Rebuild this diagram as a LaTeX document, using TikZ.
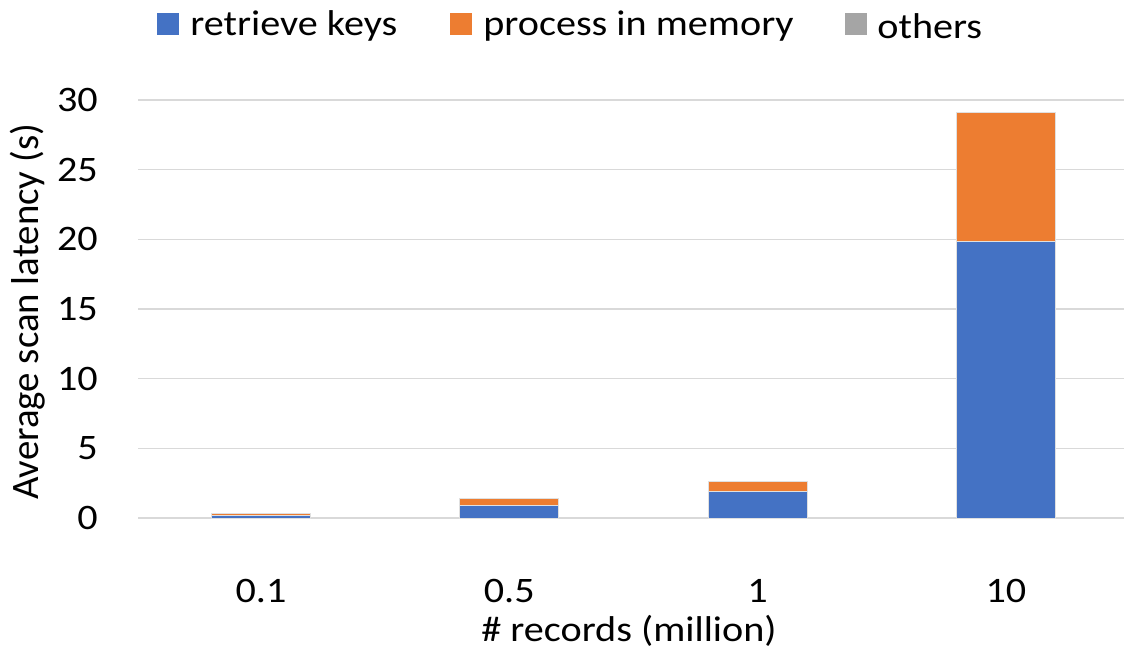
\documentclass[tikz,border=0pt]{standalone}
\usepackage{fontspec}
\setmainfont{Carlito}[FakeStretch=1.12]
\newfontfamily\ytitlefont{Carlito}
\usetikzlibrary{positioning}
\definecolor{keyblue}{HTML}{4472C4}
\definecolor{memorange}{HTML}{ED7D31}
\definecolor{othgray}{HTML}{A5A5A5}
\definecolor{gridgray}{HTML}{D9D9D9}
\newcommand{\unitH}{13.93}
\newcommand{\barW}{99}
\newcommand{\baseY}{131}

\begin{document}
\begin{tikzpicture}[x=1bp, y=1bp, every node/.style={font=\fontsize{36}{42}\selectfont, inner sep=0pt},
  grid/.style={gridgray, line width=1.5bp},
  seg/.style={draw=black!12, line width=0.7bp},
  swatch/.style={minimum size=22bp, inner sep=0pt}]
\useasboundingbox (0,0) rectangle (1124,649);
% grid and y ticks
\foreach \v in {0,5,...,30} {
  \coordinate (g\v) at (138,{\baseY+\v*\unitH});
  \draw[grid] (g\v) -- ++(986,0);
  \node[anchor=east] (t\v) at (98,{\baseY+\v*\unitH}) {\v};
}
% stacked bars: index/label/retrieve/process
\foreach \i/\lab/\k/\m in {0/0.1/0.2/0.1, 1/0.5/0.93/0.5, 2/1/1.94/0.72, 3/10/19.83/9.27} {
  \pgfmathsetmacro{\cx}{261+248.3*\i}
  \pgfmathsetmacro{\yk}{\baseY+\k*\unitH}
  \pgfmathsetmacro{\ym}{\yk+\m*\unitH}
  \filldraw[seg, fill=keyblue] ({\cx-\barW/2},\baseY) rectangle ({\cx+\barW/2},\yk);
  \filldraw[seg, fill=memorange] ({\cx-\barW/2},\yk) rectangle ({\cx+\barW/2},\ym);
  \node[anchor=base] (x\i) at (\cx,46) {\lab};
}
% titles
\node[rotate=90, font=\ytitlefont\fontsize{39}{44}\selectfont] (ytitle) at (27.5,337) {Average scan latency (s)};
\node[anchor=base] (xtitle) at (629,7) {\# records (million)};
% legend
\node[swatch, fill=keyblue] (sw1) at (168,625) {};
\node[right=11bp of sw1, yshift=-2bp] (lg1) {retrieve keys};
\node[swatch, fill=memorange] (sw2) at (461,625) {};
\node[right=11bp of sw2, yshift=-2bp] (lg2) {process in memory};
\node[swatch, fill=othgray] (sw3) at (856,625) {};
\node[right=10bp of sw3, yshift=-2bp] (lg3) {others};
\end{tikzpicture}
\end{document}
